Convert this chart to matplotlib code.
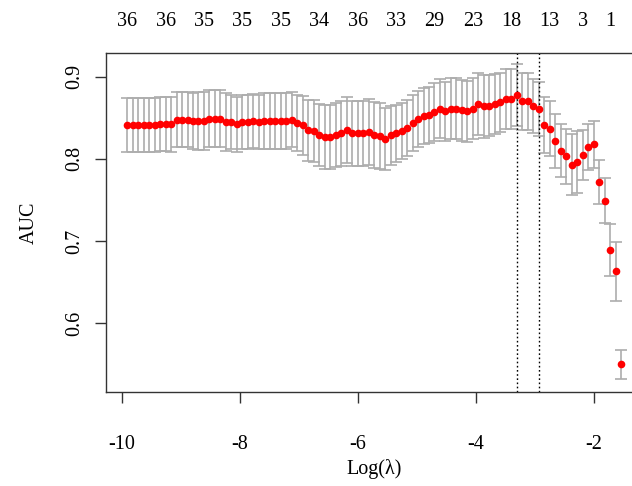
import matplotlib
matplotlib.use("Agg")
import matplotlib.pyplot as plt

# log(lambda) path of the cv fit, read left to right
log_lambda = [
    -9.910, -9.817, -9.724, -9.631, -9.538, -9.445, -9.352, -9.259, -9.166, -9.073,
    -8.980, -8.887, -8.794, -8.701, -8.608, -8.515, -8.422, -8.329, -8.236, -8.143,
    -8.050, -7.957, -7.864, -7.771, -7.678, -7.585, -7.492, -7.399, -7.306, -7.213,
    -7.120, -7.027, -6.934, -6.841, -6.748, -6.655, -6.562, -6.469, -6.376, -6.283,
    -6.190, -6.097, -6.004, -5.911, -5.818, -5.725, -5.632, -5.539, -5.446, -5.353,
    -5.260, -5.167, -5.074, -4.981, -4.888, -4.795, -4.702, -4.609, -4.516, -4.423,
    -4.330, -4.237, -4.144, -4.051, -3.958, -3.865, -3.772, -3.679, -3.586, -3.493,
    -3.400, -3.307, -3.214, -3.121, -3.028, -2.935, -2.842, -2.749, -2.656, -2.563,
    -2.470, -2.377, -2.284, -2.191, -2.098, -2.005, -1.912, -1.819, -1.726, -1.633,
    -1.540,
]

# mean cross-validated AUC
auc_mean = [
    0.841, 0.841, 0.841, 0.841, 0.841, 0.841, 0.843, 0.843, 0.842, 0.848,
    0.848, 0.848, 0.846, 0.846, 0.846, 0.849, 0.849, 0.849, 0.845, 0.845,
    0.842, 0.845, 0.845, 0.846, 0.845, 0.846, 0.846, 0.846, 0.846, 0.846,
    0.848, 0.844, 0.841, 0.835, 0.834, 0.829, 0.827, 0.827, 0.829, 0.831,
    0.835, 0.831, 0.831, 0.831, 0.833, 0.829, 0.828, 0.824, 0.829, 0.831,
    0.834, 0.838, 0.844, 0.849, 0.852, 0.853, 0.857, 0.861, 0.858, 0.861,
    0.861, 0.859, 0.858, 0.861, 0.867, 0.864, 0.865, 0.867, 0.869, 0.873,
    0.873, 0.878, 0.870, 0.870, 0.864, 0.861, 0.841, 0.837, 0.822, 0.810,
    0.803, 0.793, 0.796, 0.805, 0.815, 0.818, 0.772, 0.749, 0.689, 0.663,
    0.550,
]

# standard error of the AUC (half height of each bar)
auc_sd = [
    0.033, 0.033, 0.033, 0.033, 0.033, 0.033, 0.033, 0.033, 0.033, 0.034,
    0.034, 0.034, 0.034, 0.035, 0.035, 0.035, 0.035, 0.035, 0.035, 0.033,
    0.033, 0.033, 0.033, 0.033, 0.033, 0.034, 0.034, 0.034, 0.034, 0.034,
    0.034, 0.034, 0.036, 0.037, 0.038, 0.038, 0.039, 0.039, 0.039, 0.040,
    0.040, 0.040, 0.040, 0.040, 0.040, 0.040, 0.040, 0.038, 0.036, 0.035,
    0.034, 0.034, 0.034, 0.034, 0.034, 0.034, 0.035, 0.036, 0.036, 0.037,
    0.037, 0.037, 0.037, 0.037, 0.038, 0.038, 0.037, 0.037, 0.036, 0.036,
    0.036, 0.038, 0.035, 0.035, 0.033, 0.033, 0.034, 0.0335, 0.0325, 0.0325,
    0.033, 0.0375, 0.038, 0.0305, 0.028, 0.0285, 0.027, 0.0275, 0.032, 0.036,
    0.0175,
]

lambda_min = -3.307
lambda_1se = -2.935

# number of non-zero coefficients shown along the top
nzero_pos = [-9.910, -9.259, -8.608, -7.957, -7.306, -6.655, -6.004,
             -5.353, -4.702, -4.051, -3.400, -2.749, -2.191, -1.726]
nzero_labels = ["36", "36", "35", "35", "35", "34", "36",
                "33", "29", "23", "18", "13", "3", "1"]

x_ticks = [-10, -8, -6, -4, -2]
y_ticks = [0.6, 0.7, 0.8, 0.9]

plt.rcParams["font.family"] = ["Liberation Serif", "DejaVu Serif"]
plt.rcParams["font.size"] = 14.5

fig = plt.figure(figsize=(6.32, 4.86), dpi=100)
# the right edge of the panel runs past the picture, as in the reference
ax = fig.add_axes([0.1685, 0.193, 0.846, 0.698])

ax.errorbar(log_lambda, auc_mean, yerr=auc_sd, fmt="none",
            ecolor="#adadad", elinewidth=1.2, capsize=4, capthick=1.2, zorder=1)
ax.plot(log_lambda, auc_mean, "o", color="red", markersize=5.5,
        markeredgewidth=0, zorder=3)

ax.axvline(lambda_min, color="black", linestyle=(0, (1.2, 1.8)), linewidth=1.0, zorder=2)
ax.axvline(lambda_1se, color="black", linestyle=(0, (1.2, 1.8)), linewidth=1.0, zorder=2)

ax.set_xlim(-10.26, -1.2)
ax.set_ylim(0.516, 0.929)
ax.set_xticks(x_ticks)
ax.set_xticklabels([str(v) for v in x_ticks])
ax.set_yticks(y_ticks)
ax.set_yticklabels([f"{v:.1f}" for v in y_ticks], rotation=90, va="center")
ax.tick_params(direction="out", length=8, width=1, color="#333333", pad=22.5)
ax.tick_params(axis="y", pad=8)
for spine in ax.spines.values():
    spine.set_linewidth(1.0)
    spine.set_color("#333333")

ax.set_xlabel("Log(λ)", labelpad=4)
ax.set_ylabel("AUC", labelpad=19)

top = ax.twiny()
top.set_xlim(ax.get_xlim())
top.set_xticks(nzero_pos)
top.set_xticklabels(nzero_labels)
top.tick_params(length=0, pad=16)
for spine in top.spines.values():
    spine.set_visible(False)

fig.savefig("out.png", dpi=100)
